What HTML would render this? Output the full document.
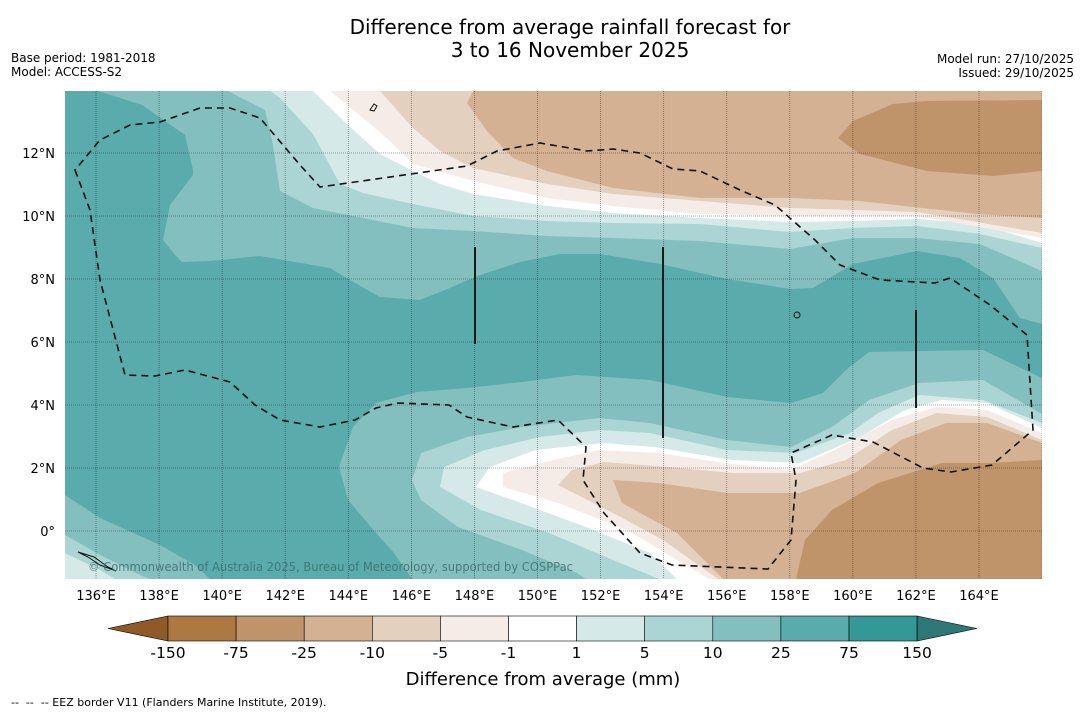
<!DOCTYPE html>
<html><head><meta charset="utf-8"><style>
body{margin:0;background:#fff;font-family:"Liberation Sans","DejaVu Sans",sans-serif;}
svg{display:block}
</style></head><body>
<svg id="chart" width="1085" height="713" viewBox="0 0 1085 713" xmlns="http://www.w3.org/2000/svg" font-family="'DejaVu Sans','Liberation Sans',sans-serif">
<text x="570" y="34" font-size="20" text-anchor="middle">Difference from average rainfall forecast for</text>
<text x="570" y="57" font-size="20" text-anchor="middle">3 to 16 November 2025</text>
<text x="11" y="62" font-size="12">Base period: 1981-2018</text>
<text x="11" y="76" font-size="12">Model: ACCESS-S2</text>
<text x="1074" y="63" font-size="12" text-anchor="end">Model run: 27/10/2025</text>
<text x="1074" y="77" font-size="12" text-anchor="end">Issued: 29/10/2025</text>
<defs><clipPath id="mapclip"><rect x="65" y="91" width="977" height="488"/></clipPath></defs>
<g clip-path="url(#mapclip)">
<rect x="65" y="91" width="977" height="488" fill="#5aabab"/>
<g fill="#84bfbf"><polygon points="98,91 142,105 185,135 193,170 193,175 170,205 163,240 175,255 182,262 210,261 260,256 330,268 355,283 380,297 420,300 445,290 480,275 520,262 560,254 600,254 660,264 727,279 790,289 813,288 853,264 917,251 960,258 993,278 1020,318 1042,324 1042,91"/></g>
<g fill="#aad5d4"><polygon points="228,91 265,110 272,140 276,165 280,191 313,208 413,228 473,231 547,236 613,238 700,241 790,249 853,238 917,238 980,244 1042,271 1042,91"/></g>
<g fill="#d5e9e8"><polygon points="270,91 280,98 313,134 340,184 363,193 413,204 473,216 547,221 613,223 700,224 790,232 853,228 917,226 980,234 1042,248 1042,91"/></g>
<g fill="#ffffff"><polygon points="313,91 347,124 380,154 413,171 440,184 473,194 547,206 613,213 700,218 790,222 853,221 917,219 980,224 1042,243 1042,91"/></g>
<g fill="#f5ece7"><polygon points="330,91 363,118 390,141 413,164 473,181 547,198 613,206 700,214 790,216 917,216 1042,238 1042,91"/></g>
<g fill="#e4d0bf"><polygon points="380,91 413,128 440,151 473,168 547,184 613,194 700,201 790,208 917,212 1042,233 1042,91"/></g>
<g fill="#d3b192"><polygon points="473,91 467,103 487,131 513,158 547,171 613,188 700,198 790,198 860,201 977,214 1042,218 1042,91"/></g>
<g fill="#c0946a"><polygon points="838,138 853,121 893,104 927,101 1042,100 1042,171 993,176 927,171 860,154"/></g>
<g fill="#84bfbf"><polygon points="1042,378 983,350 869,352 846,370 823,393 791,403 727,397 650,380 576,375 522,382 467,388 417,392 376,403 353,427 339,467 348,500 376,533 394,553 412,579 1042,579"/><polygon points="65,495 100,518 160,545 195,565 210,579 65,579"/></g>
<g fill="#aad5d4"><polygon points="1042,414 983,380 919,383 869,400 832,427 791,447 727,440 650,423 599,418 522,427 467,437 421,453 412,480 421,500 458,527 522,550 577,573 586,579 1042,579"/><polygon points="65,535 100,555 140,575 150,579 65,579"/></g>
<g fill="#d5e9e8"><polygon points="1042,423 983,400 919,395 878,413 850,433 796,453 727,450 650,433 599,430 540,437 485,450 444,467 440,487 481,510 549,533 613,560 659,579 1042,579"/><polygon points="65,553 100,570 115,579 65,579"/></g>
<g fill="#ffffff"><polygon points="1042,428 987,403 942,400 905,410 860,437 800,463 732,460 654,447 604,443 535,450 490,467 476,487 513,500 586,527 650,553 677,579 1042,579"/></g>
<g fill="#f5ece7"><polygon points="1042,433 987,410 937,407 892,420 841,447 791,470 723,463 659,453 599,450 554,460 503,473 503,487 558,503 627,530 709,579 1042,579"/></g>
<g fill="#e4d0bf"><polygon points="1042,440 987,417 937,413 892,430 846,460 800,473 732,473 668,467 604,462 572,470 558,485 613,513 663,540 718,579 1042,579"/></g>
<g fill="#d3b192"><polygon points="1042,443 987,423 946,423 901,440 855,473 800,493 727,493 659,483 613,480 622,503 677,533 723,579 1042,579"/></g>
<g fill="#c0946a"><polygon points="1042,460 992,463 942,463 878,483 832,510 805,540 796,579 1042,579"/></g>
<g id="grid"></g>
<path fill="none" stroke="#111" stroke-width="1.6" stroke-dasharray="7,5" d="M75,170 L90,210 L100,280 L125,375 L155,376 L185,370 L230,382 L255,405 L280,420 L320,427 L355,420 L376,408 L398,403 L449,405 L467,417 L513,427 L558,420 L586,447 L583,480 L604,513 L640,553 L672,565 L768,569 L791,540 L796,480 L791,453 L832,435 L873,442 L923,468 L951,472 L992,465 L1033,430 L1027,335 L990,305 L950,278 L935,283 L880,280 L840,265 L815,240 L775,205 L740,190 L700,171 L673,169 L640,153 L613,149 L587,151 L540,143 L497,151 L467,166 L320,187 L300,165 L260,118 L230,108 L200,108 L160,122 L130,125 L100,140 Z"/>
<g stroke="#1a1a1a" stroke-width="2">
<line x1="475" y1="247" x2="475" y2="344"/><line x1="663" y1="247" x2="663" y2="438"/><line x1="916" y1="310" x2="916" y2="408"/></g>
<g fill="none" stroke="#111" stroke-width="1">
<path d="M370,110 l4,-6 l3,2 l-3,5 z"/><ellipse cx="797" cy="315" rx="3" ry="3"/><path d="M78,552 l10,5 l12,8 l16,6 l-8,-4 l-14,-10 z"/></g>
<text x="88" y="571" font-size="12" fill="#3d6e6e" fill-opacity="0.85" textLength="485" lengthAdjust="spacingAndGlyphs">© Commonwealth of Australia 2025, Bureau of Meteorology, supported by COSPPac</text>
</g>
<g id="axislabels"></g>
<g id="colorbar"></g>
<text x="543" y="685" font-size="18" text-anchor="middle">Difference from average (mm)</text>
<text x="11" y="706" font-size="11" xml:space="preserve">--  --  -- EEZ border V11 (Flanders Marine Institute, 2019).</text>
</svg>
<script>
const lonTicks=[136,138,140,142,144,146,148,150,152,154,156,158,160,162,164];
const latTicks=[0,2,4,6,8,10,12];
const cbLevels=["-150","-75","-25","-10","-5","-1","1","5","10","25","75","150"];
const cbColors=["#ae7842","#c0946a","#d3b192","#e4d0bf","#f5ece7","#ffffff","#d5e9e8","#aad5d4","#84bfbf","#5aabab","#339896"];
const cbEnds=["#8f5a27","#2f7878"];
const NS="http://www.w3.org/2000/svg";
const xs=lon=>96+(lon-136)*31.536;
const ys=lat=>531-lat*31.5;
function mk(tag,attrs,parent){const e=document.createElementNS(NS,tag);for(const k in attrs)e.setAttribute(k,attrs[k]);parent.appendChild(e);return e;}
const grid=document.getElementById('grid'),ax=document.getElementById('axislabels'),cb=document.getElementById('colorbar');
lonTicks.concat([166]).forEach(l=>{
 const ln=mk('line',{x1:xs(l),x2:xs(l),y1:91,y2:579,stroke:'#000','stroke-opacity':0.45,'stroke-width':0.8,'stroke-dasharray':'1,1'},grid);
 
 
});
lonTicks.forEach(l=>{
 const t=mk('text',{x:xs(l),y:600,'font-size':13,'text-anchor':'middle'},ax);t.textContent=l+'°E';
 
 
});
latTicks.forEach(l=>{
 const ln=mk('line',{x1:65,x2:1042,y1:ys(l),y2:ys(l),stroke:'#000','stroke-opacity':0.45,'stroke-width':0.8,'stroke-dasharray':'1,1'},grid);
 
 
 const t=mk('text',{x:55,y:ys(l)+5,'font-size':13,'text-anchor':'end'},ax);t.textContent=l===0?'0°':l+'°N';
 
 
});
const cbX0=168,cbW=68.1,cbY=616,cbH=25;
const tl=mk('polygon',{points:`108,${cbY+cbH/2} ${cbX0},${cbY} ${cbX0},${cbY+cbH}`,fill:cbEnds[0],stroke:'#000','stroke-width':0.6},cb);


cbColors.forEach((c,i)=>{const r=mk('rect',{x:cbX0+i*cbW,y:cbY,width:cbW,height:cbH,fill:c,stroke:'#000','stroke-width':0.6},cb);
 
 });
const xe=cbX0+cbColors.length*cbW;
const tr=mk('polygon',{points:`${xe},${cbY} 977,${cbY+cbH/2} ${xe},${cbY+cbH}`,fill:cbEnds[1],stroke:'#000','stroke-width':0.6},cb);


cbLevels.forEach((v,i)=>{const t=mk('text',{x:cbX0+i*cbW,y:658,'font-size':15.5,'text-anchor':'middle'},cb);t.textContent=v;
 
 });
</script>
</body></html>
